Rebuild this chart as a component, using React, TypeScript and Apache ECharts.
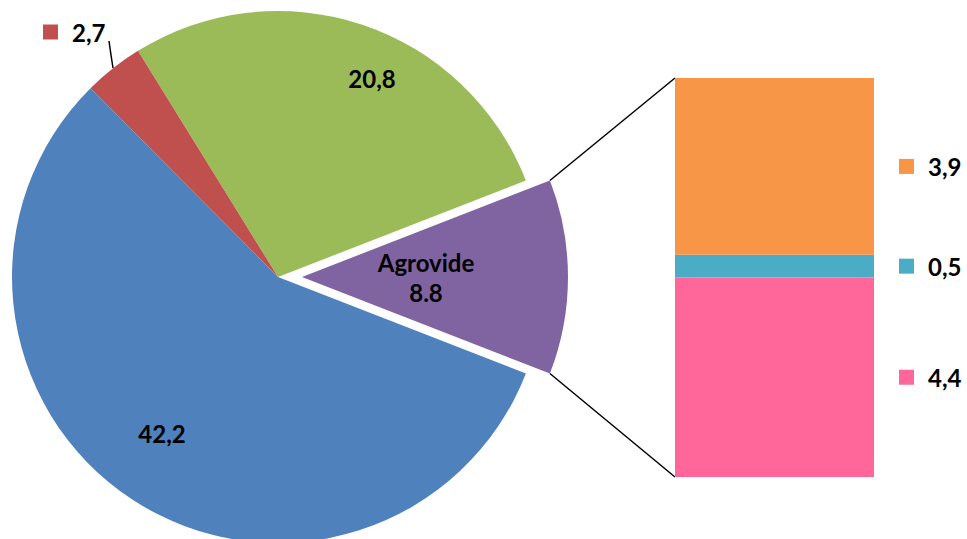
import React, { useEffect, useRef } from 'react';
import * as echarts from 'echarts';

// Pie (counter-clockwise starting from the exploded slice)
const pieNames = ['Agrovide', 'Categoria B', 'Categoria C', 'Categoria D'];
const pieValues = [8.8, 20.8, 2.7, 42.2];
const pieColors = ['#8064A2', '#9BBB59', '#C0504D', '#4F81BD'];

// Stacked breakdown bar (bottom to top)
const barNames = ['Agrovide 1', 'Agrovide 2', 'Agrovide 3'];
const barValues = [4.4, 0.5, 3.9];
const barColors = ['#FF6699', '#4BACC6', '#F79646'];

const FONT = 'Lato, "Noto Sans", sans-serif';
const comma = (v: number) => String(v).replace('.', ',');

export default function App() {
  const ref = useRef<HTMLDivElement>(null);

  useEffect(() => {
    if (!ref.current) return;
    const chart = echarts.init(ref.current, undefined, { renderer: 'svg' });

    const cx = 278;
    const cy = 277;
    const r = 266;
    const offset = 24;
    const total = pieValues.reduce((a, b) => a + b, 0);
    const half = ((pieValues[0] / total) * 360) / 2;
    const startAngle = -half;

    const gridLeft = 675;
    const gridTop = 78;
    const gridW = 199;
    const gridH = 399;

    const rad = (half * Math.PI) / 180;
    const ex = cx + offset + r * Math.cos(rad);
    const eyTop = cy - r * Math.sin(rad);
    const eyBot = cy + r * Math.sin(rad);

    const labelPos: Record<number, { x: number; y: number; align: string }> = {
      1: { x: 372, y: 78, align: 'center' },
      2: { x: 43, y: 32, align: 'left' },
      3: { x: 162, y: 433, align: 'center' },
    };

    const textBase = {
      fontFamily: FONT,
      fontWeight: 'bold' as const,
      fontSize: 24,
      color: '#000',
    };

    const pieData = pieValues.map((v, i) => {
      const item: any = {
        name: pieNames[i],
        value: v,
        itemStyle: { color: pieColors[i] },
      };
      if (i === 0) {
        item.selected = true;
        item.label = {
          formatter: () => `${pieNames[0]}\n${pieValues[0]}`,
          lineHeight: 30,
          padding: [16, 24, 0, 0],
        };
      } else if (i === 2) {
        item.label = {
          position: 'outside',
          formatter: () => `{sq|}{v|${comma(v)}}`,
          rich: {
            sq: { width: 15, height: 15, backgroundColor: pieColors[2] },
            v: { ...textBase, padding: [0, 0, 0, 14] },
          },
        };
        item.labelLine = {
          show: true,
          length: 10,
          length2: 0,
          lineStyle: { color: '#000', width: 1.5 },
        };
      }
      return item;
    });

    const barSeries = barValues.map((v, i) => ({
      type: 'bar',
      name: barNames[i],
      stack: 'breakdown',
      barWidth: '100%',
      barCategoryGap: 0,
      data: [v],
      itemStyle: { color: barColors[i] },
      label: {
        show: true,
        position: 'right',
        distance: 25,
        formatter: () => `{sq|}{v|${comma(v)}}`,
        rich: {
          sq: { width: 15, height: 15, backgroundColor: barColors[i] },
          v: { ...textBase, padding: [0, 0, 0, 14] },
        },
      },
    }));

    chart.setOption({
      animation: false,
      backgroundColor: '#fff',
      textStyle: { fontFamily: FONT },
      grid: { left: gridLeft, top: gridTop, width: gridW, height: gridH },
      xAxis: { type: 'category', data: ['Agrovide'], show: false },
      yAxis: {
        type: 'value',
        min: 0,
        max: barValues.reduce((a, b) => a + b, 0),
        show: false,
      },
      graphic: [
        {
          type: 'line',
          shape: { x1: ex, y1: eyTop, x2: gridLeft, y2: gridTop },
          style: { stroke: '#000', lineWidth: 1.5 },
          z: 0,
        },
        {
          type: 'line',
          shape: { x1: ex, y1: eyBot, x2: gridLeft, y2: gridTop + gridH },
          style: { stroke: '#000', lineWidth: 1.5 },
          z: 0,
        },
      ],
      series: [
        {
          type: 'pie',
          center: [cx, cy],
          radius: r,
          startAngle,
          clockwise: false,
          selectedMode: 'single',
          selectedOffset: offset,
          avoidLabelOverlap: false,
          emphasis: { disabled: true },
          itemStyle: { borderWidth: 0 },
          label: {
            show: true,
            position: 'inside',
            ...textBase,
            formatter: (p: any) => comma(p.value),
          },
          labelLine: { show: false },
          labelLayout: (params: any) => {
            const p = labelPos[params.dataIndex];
            if (!p) return {};
            const res: any = {
              x: p.x,
              y: p.y,
              align: p.align,
              verticalAlign: 'middle',
            };
            if (params.dataIndex === 2) {
              res.labelLinePoints = [
                [113, 68],
                [111, 55],
                [109, 41],
              ];
            }
            return res;
          },
          data: pieData,
        },
        ...barSeries,
      ],
    });

    return () => chart.dispose();
  }, []);

  return (
    <div
      ref={ref}
      style={{ position: 'fixed', left: 0, top: 0, width: 967, height: 539 }}
    />
  );
}
